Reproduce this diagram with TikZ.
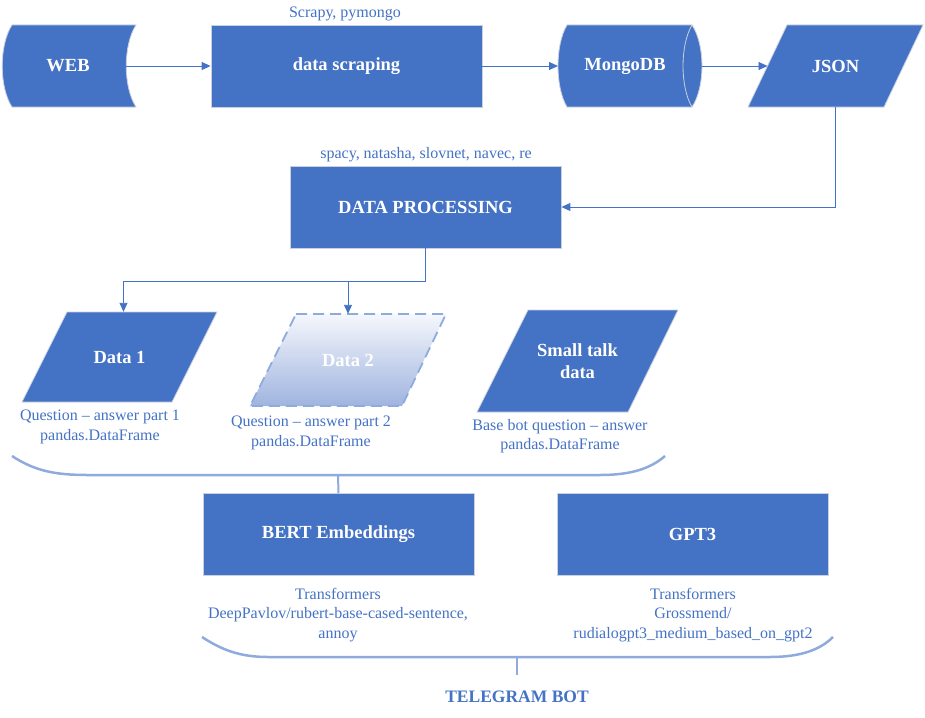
\documentclass[tikz,border=0pt]{standalone}
\usepackage{fontspec}
\setmainfont{Liberation Serif}
\usetikzlibrary{arrows.meta}
\definecolor{mainblue}{HTML}{4472C4}
\definecolor{lightblue}{HTML}{8FAADC}
\definecolor{edgegray}{HTML}{C9D0DE}
\definecolor{shadetop}{HTML}{F5F7FC}
\definecolor{shadebot}{HTML}{9FB4DF}
\begin{document}
\begin{tikzpicture}[x=1pt,y=-1pt,
  shapestyle/.style={fill=mainblue, draw=edgegray, line width=0.8pt},
  boxnode/.style={shapestyle, minimum width=271pt, minimum height=82pt, inner sep=0pt, text=white, font=\fontsize{18.5}{21}\selectfont\bfseries},
  holder/.style={minimum width=#1, minimum height=82pt, inner sep=0pt, text=white, align=center, font=\fontsize{18.5}{22}\selectfont\bfseries},
  lbl/.style={text=mainblue, font=\fontsize{16}{19.5}\selectfont, align=center, inner sep=0pt},
  connline/.style={draw=mainblue, line width=0.9pt},
  conn/.style={connline, -{Triangle[length=9pt,width=8pt]}},
  bracestyle/.style={draw=lightblue, line width=2.5pt}
]
\useasboundingbox (0,0) rectangle (925,717);

% ---- custom outlines ----
% WEB (stored data)
\path[shapestyle] (12,25) -- (136,25) .. controls (123,45) and (123,87) .. (136,107)
  -- (12,107) .. controls (-1,87) and (-1,45) .. (12,25) -- cycle;
% MongoDB (cylinder)
\path[shapestyle] (567,25) -- (692,25) .. controls (705.3,45) and (705.3,87) .. (692,107)
  -- (567,107) .. controls (555,87) and (555,45) .. (567,25) -- cycle;
\draw[edgegray, line width=0.8pt] (692,25) .. controls (680,45) and (680,87) .. (692,107);
% JSON
\path[shapestyle] (787,25) -- (923,25) -- (884,107) -- (748,107) -- cycle;
% Data 1
\path[shapestyle] (67,312) -- (217,312) -- (172,402) -- (22,402) -- cycle;
% Data 2 (shaded, dashed)
\shade[top color=shadetop, bottom color=shadebot] (296,314) -- (446,314) -- (402,406) -- (250,406) -- cycle;
\draw[lightblue, line width=1.8pt, dash pattern=on 11pt off 6pt] (296,314) -- (446,314) -- (402,406) -- (250,406) -- cycle;
% Small talk data
\path[shapestyle] (528,310) -- (678,310) -- (628,412) -- (477,412) -- cycle;

% ---- nodes ----
\node[holder=124pt] (web) at (68,66) {WEB};
\node[boxnode] (scrap) at (346.5,66) {data scraping};
\node[holder=125pt] (mongo) at (625,66) {MongoDB};
\node[holder=175pt] (json) at (835.5,66) {JSON};
\node[boxnode] (dp) at (425.5,207) {DATA PROCESSING};
\node[holder=195pt, minimum height=90pt] (d1) at (119.5,357) {Data 1};
\node[holder=196pt, minimum height=92pt] (d2) at (348,360) {Data 2};
\node[holder=201pt, minimum height=102pt] (d3) at (577.5,361) {Small talk\\data};
\node[boxnode] (bert) at (338.5,534.5) {BERT Embeddings};
\node[boxnode] (gpt) at (692.5,534.5) {GPT3};

% ---- labels ----
\node[lbl] (lscrap) at (345,14) {Scrapy, pymongo};
\node[lbl] (ldp) at (426,155) {spacy, natasha, slovnet, navec, re};
\node[lbl] (ld1) at (100,427) {Question – answer part 1\\pandas.DataFrame};
\node[lbl] (ld2) at (311,433) {Question – answer part 2\\pandas.DataFrame};
\node[lbl] (ld3) at (560,436) {Base bot question – answer\\pandas.DataFrame};
\node[lbl] (lbert) at (338,615) {Transformers\\DeepPavlov/rubert-base-cased-sentence,\\annoy};
\node[lbl] (lgpt) at (693,615) {Transformers\\Grossmend/\\rudialogpt3\_medium\_based\_on\_gpt2};
\node[text=mainblue, font=\fontsize{17.5}{20}\selectfont\bfseries, inner sep=0pt] (tg) at (517,697) {TELEGRAM BOT};

% ---- connector points ----
\coordinate (webout) at (126,66);
\coordinate (mongoin) at (558,66);
\coordinate (mongoout) at (702,66);
\coordinate (jsonin) at (767.5,66);
\coordinate (split) at (425.5,281);
\coordinate (b1) at (338,475);
\coordinate (b2) at (517,657);
\coordinate (b2end) at (517,675);

% ---- connectors ----
\draw[conn] (webout) -- (scrap.west);
\draw[conn] (scrap.east) -- (mongoin);
\draw[conn] (mongoout) -- (jsonin);
\draw[conn] (json.south) |- (dp.east);
\draw[connline] (dp.south) -- (split);
\draw[conn] (split) -| ([xshift=4pt]d1.north);
\draw[conn] (split) -| (d2.north);

% ---- braces ----
\draw[bracestyle] (12,456) .. controls (35,471) and (55,475) .. (88,475) -- (600,475)
  .. controls (630,475) and (650,469) .. (665,456);
\draw[draw=lightblue, line width=2pt] (b1) -- (bert.north);
\draw[bracestyle] (202,637) .. controls (222,650) and (240,657) .. (268,657) -- (770,657)
  .. controls (800,657) and (820,650) .. (833,637);
\draw[draw=lightblue, line width=2pt] (b2) -- (b2end);
\end{tikzpicture}
\end{document}
